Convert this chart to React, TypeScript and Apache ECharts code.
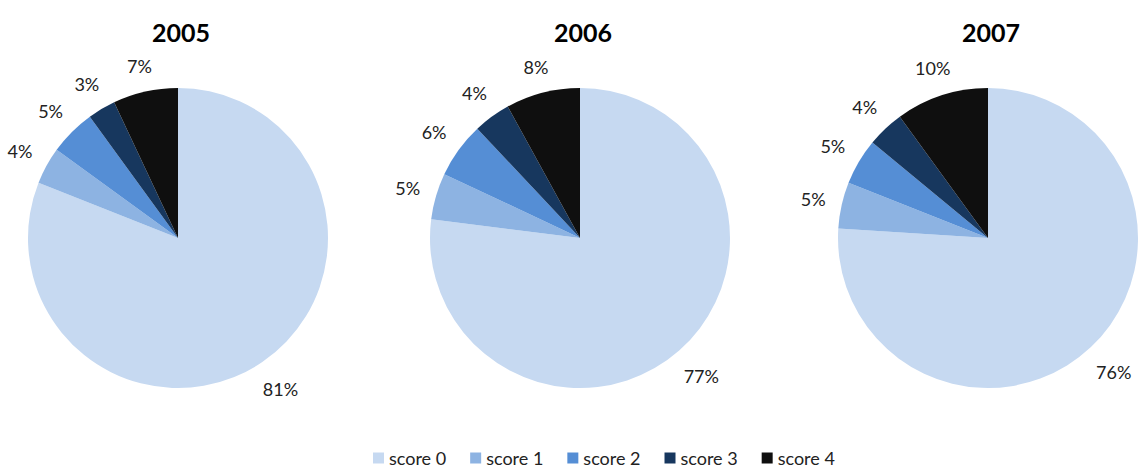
import React, { useEffect, useRef } from 'react';
import * as echarts from 'echarts';

const years = ['2005', '2006', '2007'];
const categories = ['score 0', 'score 1', 'score 2', 'score 3', 'score 4'];
const values2005 = [81, 4, 5, 3, 7];
const values2006 = [77, 5, 6, 4, 8];
const values2007 = [76, 5, 5, 4, 10];
const colors = ['#C6D9F1', '#8DB3E2', '#558ED5', '#17375E', '#0F0F0F'];

const FONT = 'Lato, "Open Sans", "Liberation Sans", sans-serif';
const pieCenters = [178, 580, 988];
const seriesValues = [values2005, values2006, values2007];

export default function App() {
  const ref = useRef<HTMLDivElement>(null);
  useEffect(() => {
    document.body.style.margin = '0';
    if (!ref.current) return;
    const chart = echarts.init(ref.current, null, { renderer: 'svg' });
    const labelLayout = (p: any) => {
      const pts = p.labelLinePoints;
      if (!pts || pts.length < 2) return {};
      const dx0 = pts[1][0] - pts[0][0];
      const dy0 = pts[1][1] - pts[0][1];
      const len = Math.sqrt(dx0 * dx0 + dy0 * dy0) || 1;
      const ux = dx0 / len;
      const uy = dy0 / len;
      const hw = p.labelRect.width / 2;
      const hh = p.labelRect.height / 2;
      const ext = Math.abs(ux) * hw + Math.abs(uy) * hh;
      return {
        x: pts[1][0] + ux * ext,
        y: pts[1][1] + uy * ext,
        align: 'center',
        verticalAlign: 'middle',
      };
    };
    chart.setOption({
      animation: false,
      color: colors,
      title: years.map((y, i) => ({
        text: y,
        left: pieCenters[i] - 2,
        top: 14,
        textAlign: 'center',
        textStyle: { fontFamily: FONT, fontSize: 25, fontWeight: 'bold', color: '#000' },
      })),
      legend: {
        data: categories,
        left: 373,
        top: 449,
        padding: 0,
        icon: 'rect',
        itemWidth: 11,
        itemHeight: 11,
        itemGap: 24,
        textStyle: { fontFamily: FONT, fontSize: 18, lineHeight: 18, color: '#222' },
      },
      series: years.map((y, i) => ({
        type: 'pie',
        name: y,
        center: [pieCenters[i], 238],
        radius: 150,
        startAngle: 90,
        clockwise: true,
        avoidLabelOverlap: false,
        itemStyle: { borderWidth: 0 },
        emphasis: { disabled: true },
        label: {
          show: true,
          position: 'outside',
          formatter: '{c}%',
          fontFamily: FONT,
          fontSize: 18,
          color: '#222',
        },
        labelLine: { show: true, length: 15, length2: 0, lineStyle: { opacity: 0 } },
        labelLayout,
        data: categories.map((c, k) => ({ name: c, value: seriesValues[i][k] })),
      })),
    });
    return () => chart.dispose();
  }, []);
  return <div ref={ref} style={{ width: 1140, height: 471 }} />;
}
